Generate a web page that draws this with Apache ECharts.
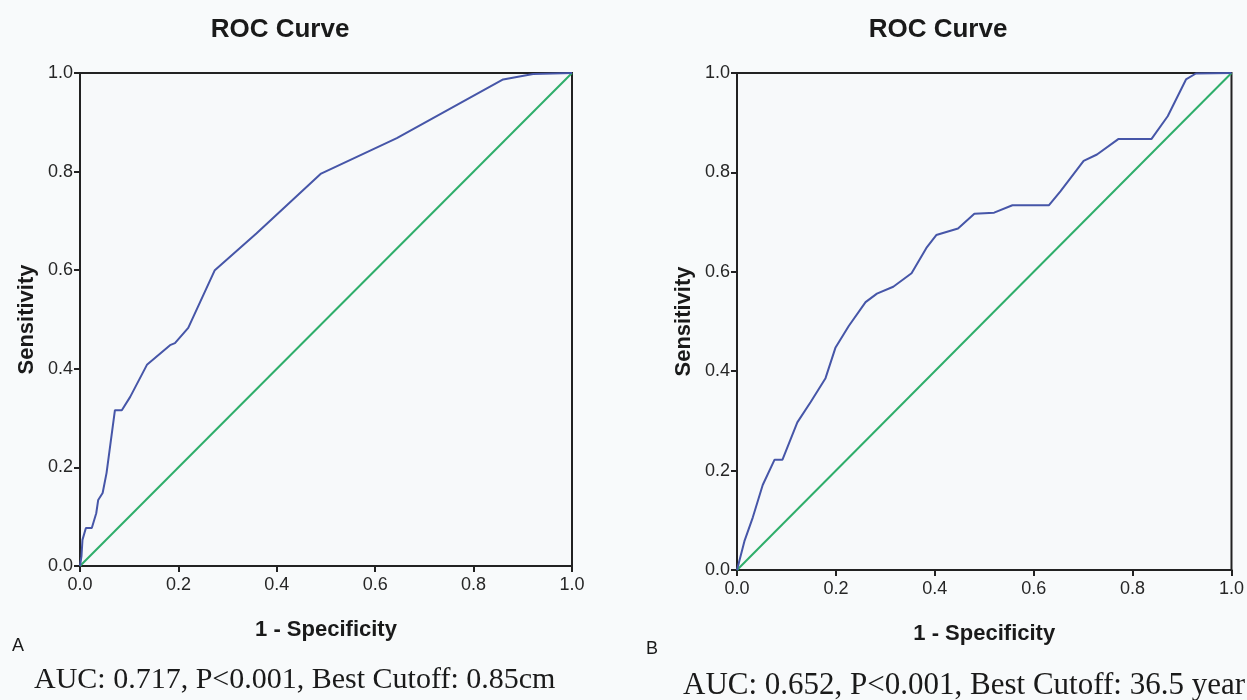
<!DOCTYPE html>
<html>
<head>
<meta charset="utf-8">
<script src="https://cdn.jsdelivr.net/npm/echarts@6/dist/echarts.min.js"></script>
<style>
html,body{margin:0;padding:0;background:#f8fafb;}
#main{width:1247px;height:700px;}
</style>
</head>
<body>
<div id="main"></div>
<script>
// ---- data ----
const tickValues = [0.0, 0.2, 0.4, 0.6, 0.8, 1.0];
const refLine = [[0, 0], [1, 1]];

// Panel A: tumour size
const leftFPR = [0.000, 0.003, 0.005, 0.012, 0.024, 0.033, 0.037, 0.046, 0.054, 0.071, 0.085, 0.102, 0.136, 0.183, 0.193, 0.220, 0.274, 0.359, 0.490, 0.644, 0.860, 0.921, 1.000];
const leftTPR = [0.000, 0.020, 0.053, 0.077, 0.077, 0.107, 0.134, 0.148, 0.189, 0.316, 0.316, 0.343, 0.408, 0.448, 0.452, 0.483, 0.600, 0.675, 0.796, 0.868, 0.987, 0.998, 1.000];

// Panel B: age
const rightFPR = [0.000, 0.015, 0.032, 0.052, 0.076, 0.092, 0.122, 0.149, 0.179, 0.199, 0.226, 0.260, 0.283, 0.316, 0.353, 0.383, 0.403, 0.447, 0.480, 0.520, 0.557, 0.631, 0.654, 0.701, 0.728, 0.771, 0.838, 0.871, 0.908, 0.928, 1.000];
const rightTPR = [0.000, 0.058, 0.106, 0.171, 0.222, 0.222, 0.297, 0.338, 0.386, 0.447, 0.491, 0.539, 0.556, 0.570, 0.597, 0.648, 0.674, 0.687, 0.717, 0.719, 0.734, 0.734, 0.762, 0.823, 0.836, 0.867, 0.867, 0.913, 0.987, 0.999, 1.000];

const titles = ['ROC Curve', 'ROC Curve'];
const xName = '1 - Specificity';
const yName = 'Sensitivity';
const panelLetters = ['A', 'B'];
const captions = ['AUC: 0.717, P<0.001, Best Cutoff: 0.85cm', 'AUC: 0.652, P<0.001, Best Cutoff: 36.5 year'];

// ---- chart ----
const zip = (a, b) => a.map((v, i) => [v, b[i]]);
const SANS = 'Arial, "Liberation Sans", sans-serif';
const SERIF = '"Liberation Serif", "Times New Roman", serif';
const sansBold = {fontFamily: SANS, fontWeight: 'bold', color: '#1a1a1a'};
const fmt = v => v.toFixed(1);

function xAxis(gi) {
  return {
    gridIndex: gi, type: 'value', min: 0, max: 1, interval: 0.2,
    name: xName, nameLocation: 'middle', nameGap: 53,
    nameTextStyle: Object.assign({fontSize: 22}, sansBold),
    axisLine: {show: true, onZero: false, lineStyle: {color: '#222', width: 2}},
    axisTick: {show: true, length: 6, lineStyle: {color: '#222', width: 2}},
    axisLabel: {formatter: fmt, fontSize: 18, color: '#262626', margin: 10, fontFamily: SANS},
    splitLine: {show: false}
  };
}
function yAxis(gi) {
  return {
    gridIndex: gi, type: 'value', min: 0, max: 1, interval: 0.2,
    name: yName, nameLocation: 'middle', nameGap: 42,
    nameTextStyle: Object.assign({fontSize: 22}, sansBold),
    axisLine: {show: true, onZero: false, lineStyle: {color: '#222', width: 2}},
    axisTick: {show: true, length: 6, lineStyle: {color: '#222', width: 2}},
    axisLabel: {formatter: fmt, fontSize: 18, color: '#262626', margin: 7, fontFamily: SANS},
    splitLine: {show: false}
  };
}

const chart = echarts.init(document.getElementById('main'), null, {renderer: 'canvas'});
chart.setOption({
  backgroundColor: '#f8fafb',
  animation: false,
  grid: [
    {left: 80, top: 73, width: 492, height: 493, show: true, backgroundColor: '#f7f9fa', borderColor: '#222', borderWidth: 2},
    {left: 737, top: 73, width: 497, height: 497, show: true, backgroundColor: '#f7f9fa', borderColor: '#222', borderWidth: 2}
  ],
  xAxis: [xAxis(0), xAxis(1)],
  yAxis: [yAxis(0), yAxis(1)],
  series: [
    {type: 'line', xAxisIndex: 0, yAxisIndex: 0, data: refLine, showSymbol: false, lineStyle: {color: '#2eae6a', width: 2}},
    {type: 'line', xAxisIndex: 0, yAxisIndex: 0, data: zip(leftFPR, leftTPR), showSymbol: false, lineStyle: {color: '#4656a8', width: 2}},
    {type: 'line', xAxisIndex: 1, yAxisIndex: 1, data: refLine, showSymbol: false, lineStyle: {color: '#2eae6a', width: 2}},
    {type: 'line', xAxisIndex: 1, yAxisIndex: 1, data: zip(rightFPR, rightTPR), showSymbol: false, lineStyle: {color: '#4656a8', width: 2}}
  ],
  graphic: [
    {type: 'text', x: 280, y: 30, style: {text: titles[0], font: 'bold 26px ' + SANS, fill: '#1a1a1a', align: 'center', verticalAlign: 'middle'}},
    {type: 'text', x: 938, y: 30, style: {text: titles[1], font: 'bold 26px ' + SANS, fill: '#1a1a1a', align: 'center', verticalAlign: 'middle'}},
    {type: 'text', x: 12, y: 646, style: {text: panelLetters[0], font: '18px ' + SANS, fill: '#1a1a1a', verticalAlign: 'middle'}},
    {type: 'text', x: 646, y: 649, style: {text: panelLetters[1], font: '18px ' + SANS, fill: '#1a1a1a', verticalAlign: 'middle'}},
    {type: 'text', x: 34, y: 680, style: {text: captions[0], font: '30px ' + SERIF, fill: '#1a1a1a', verticalAlign: 'middle'}},
    {type: 'text', x: 683, y: 686, style: {text: captions[1], font: '31px ' + SERIF, fill: '#1a1a1a', verticalAlign: 'middle'}}
  ]
});
</script>
</body>
</html>
